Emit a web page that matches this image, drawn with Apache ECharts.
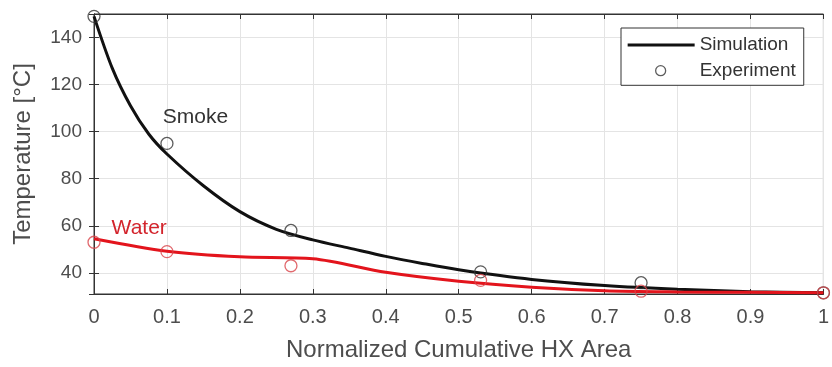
<!DOCTYPE html>
<html>
<head>
<meta charset="utf-8">
<script src="https://cdn.jsdelivr.net/npm/echarts@6/dist/echarts.min.js"></script>
<style>
  html, body { margin: 0; padding: 0; background: #fff; }
  #main { width: 832px; height: 367px; }
</style>
</head>
<body>
<div id="main"></div>
<script>
// simulation curves: [area, temperature]
const smokeSim = [
  [0, 149], [0.025, 127], [0.05, 111], [0.075, 99], [0.1, 90.5], [0.15, 77],
  [0.2, 66], [0.25, 58.5], [0.3, 54], [0.35, 50.5], [0.4, 47], [0.45, 44],
  [0.5, 41.3], [0.6, 37.2], [0.7, 34.6], [0.8, 33], [0.9, 32], [1, 31.5]
];
const waterSim = [
  [0, 54.5], [0.1, 49.2], [0.2, 46.8], [0.3, 46], [0.4, 40.2], [0.5, 36.4],
  [0.6, 33.9], [0.7, 32.4], [0.8, 31.9], [0.9, 31.7], [1, 31.5]
];
// experiment points
const smokeExp = [[0, 149], [0.1, 95], [0.27, 58], [0.53, 40.4], [0.75, 35.8], [1, 31.5]];
const waterExp = [[0, 53], [0.1, 49], [0.27, 43], [0.53, 36.8], [0.75, 32.2], [1, 31.5]];

const xMin = 0, xMax = 1, xStep = 0.1;
const yMin = 31, yMax = 150;

const chart = echarts.init(document.getElementById("main"));

const labelColor = "#4d4d4d";
const font = "Liberation Sans, Arial, sans-serif";
const black = "#111111";
const red = "#e3141c";

// legend icons: the leading moves pin the box to itemWidth x itemHeight
const lineIcon = "path://M0,0 M67,20 M0,8.5 L67,8.5 L67,11.5 L0,11.5 Z";
const ringIcon = "path://M0,0 M67,20 M38,10 A5,5 0 1 1 28,10 A5,5 0 1 1 38,10 Z";

const option = {
  animation: false,
  textStyle: { fontFamily: font },
  grid: { left: 94, right: 3, top: 14, bottom: 73, show: true, borderColor: "#333", borderWidth: 1 },
  legend: {
    left: 621, top: 28, orient: "vertical",
    backgroundColor: "#fff", borderColor: "#333", borderWidth: 1,
    padding: [7, 8, 4, 6], itemGap: 5, itemWidth: 67, itemHeight: 20,
    textStyle: { fontSize: 19, color: "#333", fontFamily: font },
    data: [
      { name: "Simulation", icon: lineIcon, itemStyle: { color: black, borderWidth: 0 } },
      { name: "Experiment", icon: ringIcon, itemStyle: { color: "transparent", borderColor: "#333", borderWidth: 1.3 } }
    ]
  },
  xAxis: [
    {
      type: "value", min: xMin, max: xMax, interval: xStep,
      name: "Normalized Cumulative HX Area", nameLocation: "middle", nameGap: 44,
      nameTextStyle: { fontSize: 24, color: labelColor },
      axisLine: { lineStyle: { color: "#333" } },
      axisTick: { inside: true, length: 5, lineStyle: { color: "#333" } },
      axisLabel: { fontSize: 20, color: labelColor, margin: 13 },
      splitLine: { lineStyle: { color: "#e4e4e4" } }
    },
    {
      type: "value", min: xMin, max: xMax, interval: xStep, position: "top",
      axisLine: { lineStyle: { color: "#333" } },
      axisTick: { inside: true, length: 5, lineStyle: { color: "#333" } },
      axisLabel: { show: false }, splitLine: { show: false }
    }
  ],
  yAxis: [
    {
      type: "value", min: yMin, max: yMax, splitNumber: 6,
      name: "Temperature [°C]", nameLocation: "middle", nameGap: 59,
      nameTextStyle: { fontSize: 24, color: labelColor },
      axisLine: { show: true, lineStyle: { color: "#333" } },
      axisTick: { show: true, inside: true, length: 5, lineStyle: { color: "#333" } },
      axisLabel: {
        fontSize: 19, color: labelColor, margin: 12,
        formatter: v => (v % 20 === 0 ? String(v) : "")
      },
      splitLine: { lineStyle: { color: "#e4e4e4" } }
    },
    {
      type: "value", min: yMin, max: yMax, splitNumber: 6, position: "right",
      axisLine: { show: true, lineStyle: { color: "#333" } },
      axisTick: { show: true, inside: true, length: 5, lineStyle: { color: "#333" } },
      axisLabel: { show: false }, splitLine: { show: false }
    }
  ],
  series: [
    {
      name: "Simulation", type: "line", data: smokeSim, smooth: 0.3,
      symbol: "none", lineStyle: { color: black, width: 3 }, itemStyle: { color: black },
      markPoint: {
        symbol: "circle", symbolSize: 1, itemStyle: { color: "transparent" },
        label: { show: true, position: "inside", formatter: "Smoke", fontSize: 21, color: "#333" },
        data: [{ coord: [0.139, 106] }]
      }
    },
    {
      name: "Simulation", type: "line", data: waterSim, smooth: 0.3,
      symbol: "none", lineStyle: { color: red, width: 3 }, itemStyle: { color: red },
      markPoint: {
        symbol: "circle", symbolSize: 1, itemStyle: { color: "transparent" },
        label: { show: true, position: "inside", formatter: "Water", fontSize: 21, color: "#d3242c" },
        data: [{ coord: [0.062, 59] }]
      }
    },
    {
      name: "Experiment", type: "scatter", data: smokeExp, symbol: "circle", symbolSize: 12,
      itemStyle: { color: "transparent", borderColor: "#333", borderWidth: 1.3 }, z: 5
    },
    {
      name: "Experiment", type: "scatter", data: waterExp, symbol: "circle", symbolSize: 12,
      itemStyle: { color: "transparent", borderColor: "#d9434a", borderWidth: 1.3 }, z: 5
    }
  ]
};

chart.setOption(option);
</script>
</body>
</html>
